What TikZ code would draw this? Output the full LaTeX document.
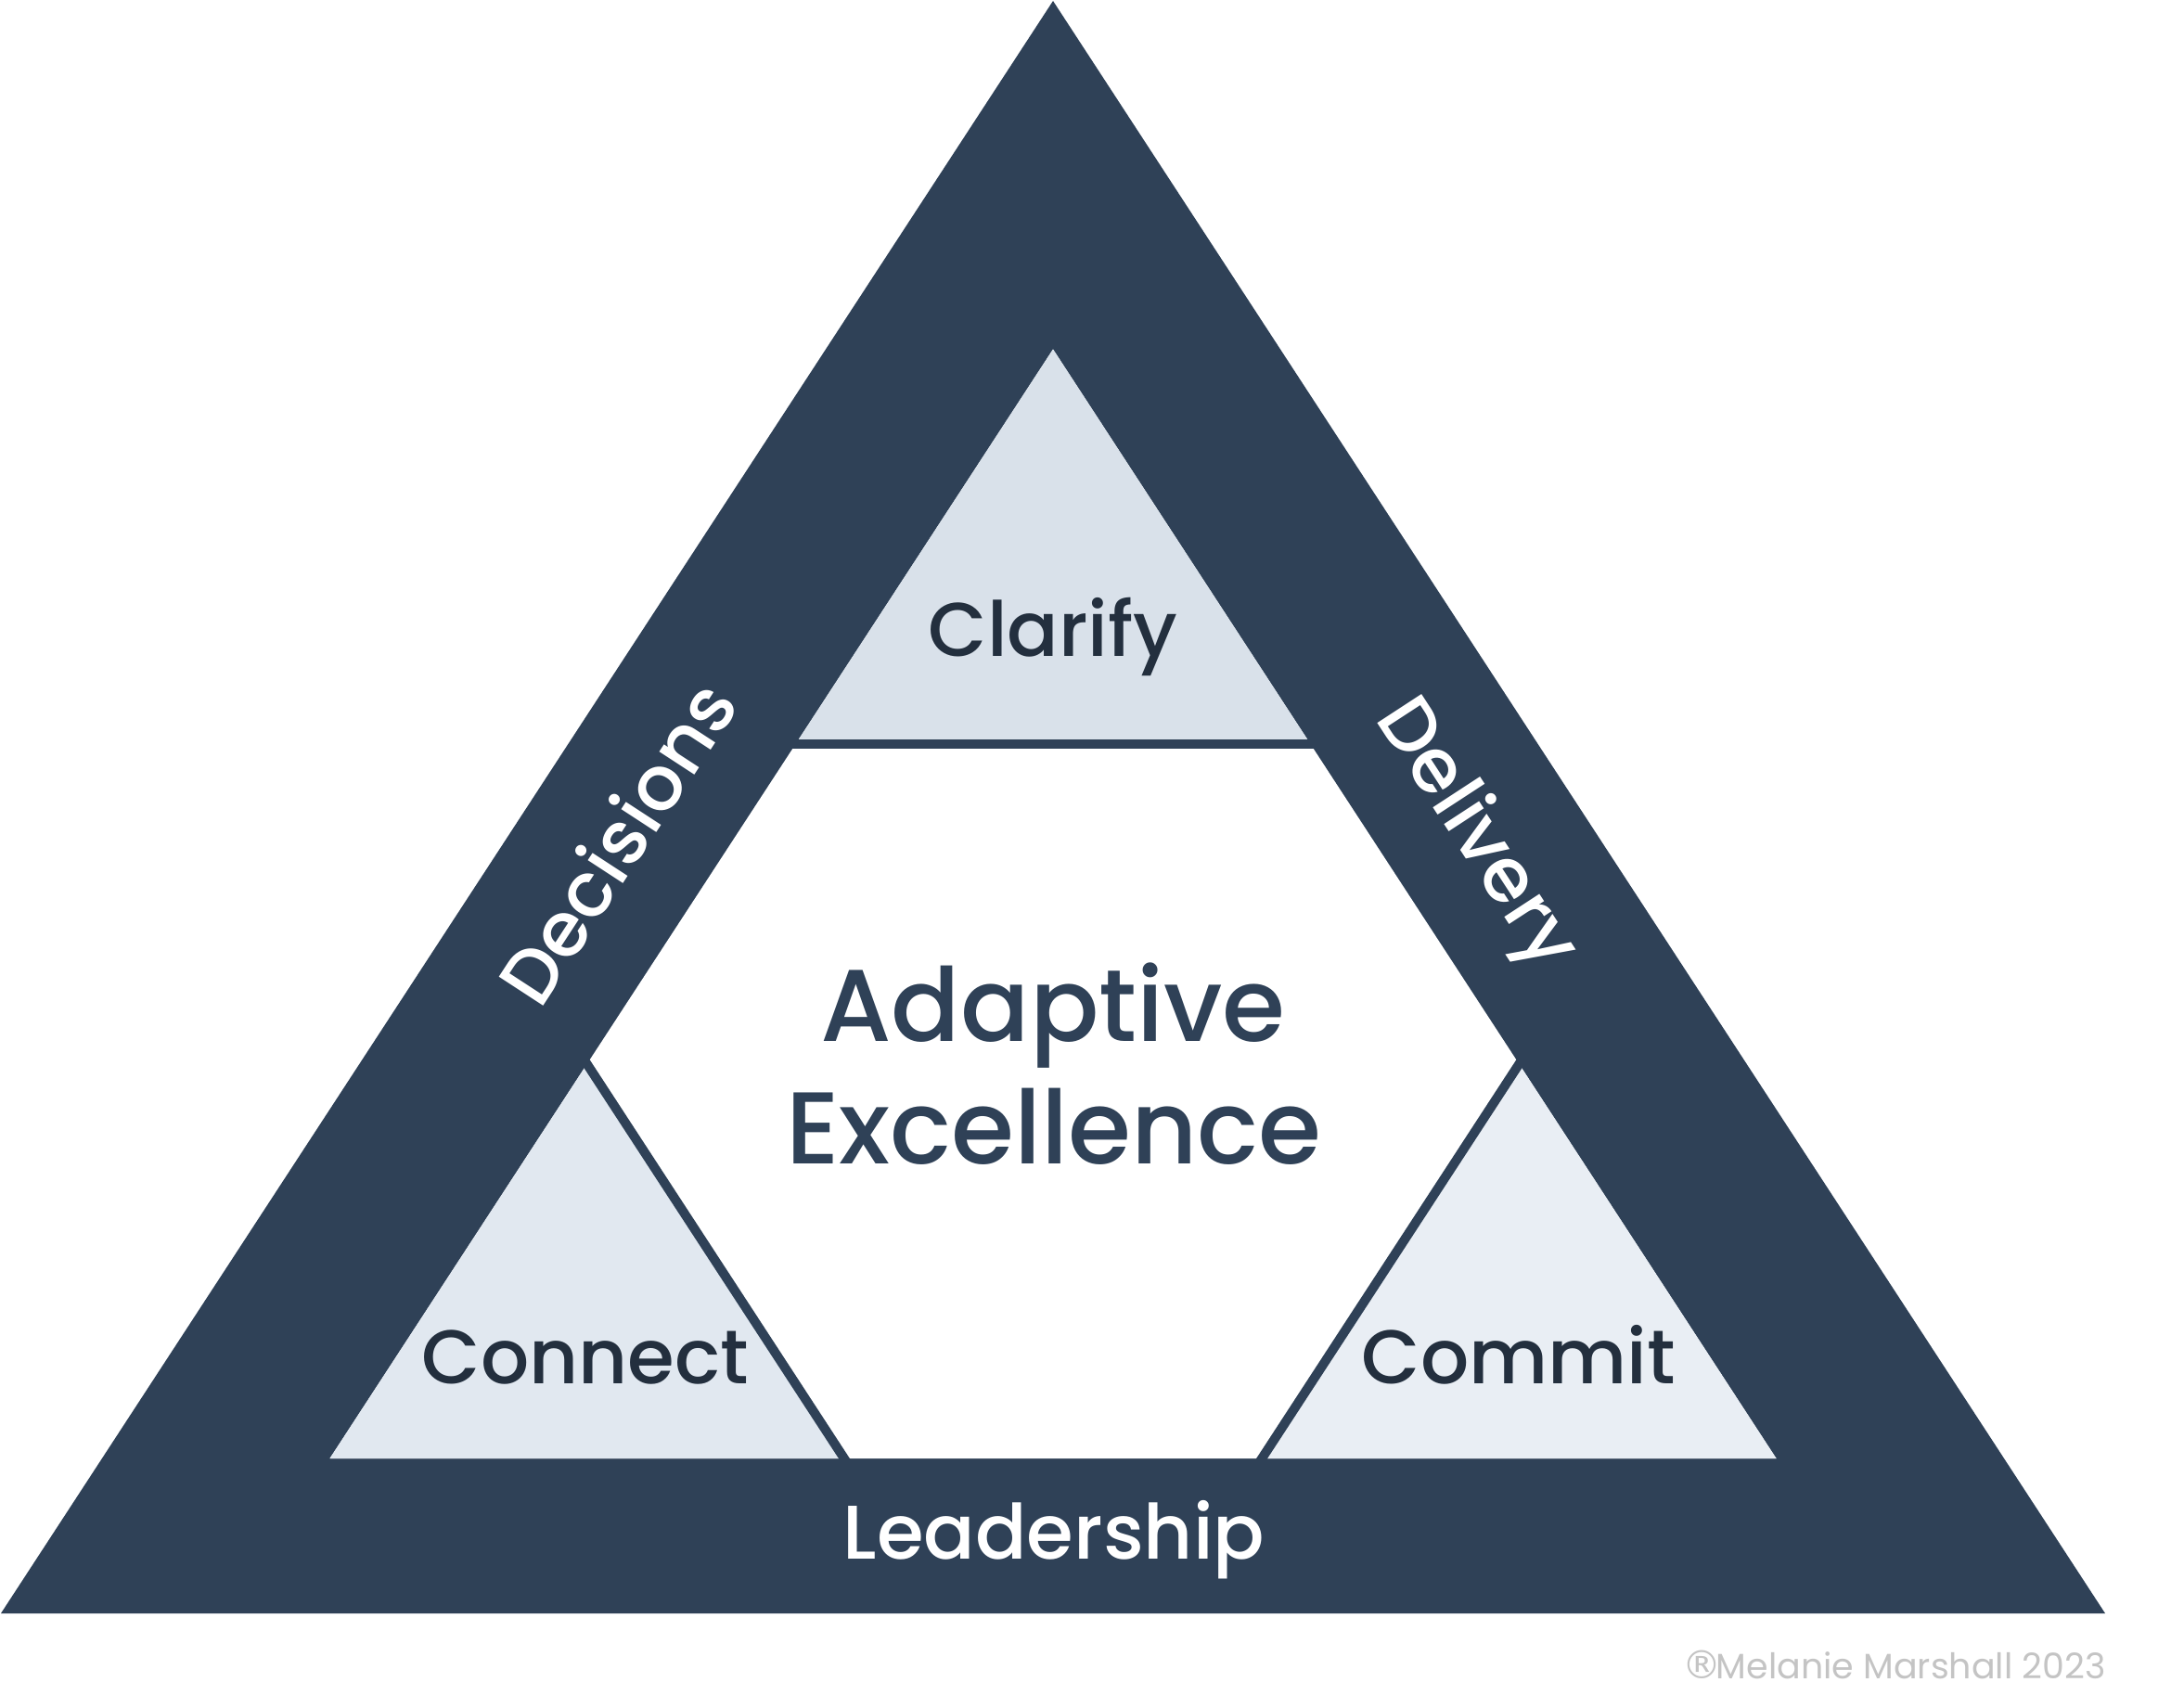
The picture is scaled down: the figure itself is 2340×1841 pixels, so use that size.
\documentclass[tikz,border=0pt]{standalone}
\usepackage{fontspec}
\setmainfont{Poppins}[UprightFont={* Medium}]
\newfontfamily\regfont{Poppins}
\newfontfamily\symfont{DejaVu Sans}
\usetikzlibrary{calc}
\definecolor{navy}{HTML}{2F4157}
\definecolor{ink}{HTML}{232F3E}
\definecolor{clarifyfill}{HTML}{D9E1EA}
\definecolor{connectfill}{HTML}{E1E8F0}
\definecolor{commitfill}{HTML}{E9EEF4}
\definecolor{copygray}{HTML}{C4C4C4}
\tikzset{
  sublabel/.style={inner sep=0pt, anchor=base, text=ink, font=\fontsize{82}{98}\selectfont},
  bandlabel/.style={inner sep=0pt, text=white, text height=58pt, text depth=0pt, font=\fontsize{82}{98}\selectfont},
  centerlabel/.style={inner sep=0pt, anchor=base, text=navy, font=\fontsize{110}{130}\selectfont},
  divider/.style={draw=navy, line width=10pt, shorten <=-12pt, shorten >=-12pt}
}
\begin{document}
\begin{tikzpicture}[x=1pt,y=-1pt]
\useasboundingbox (0,0) rectangle (2340,1841);
\fill[white] (0,0) rectangle (2340,1841);
% outer triangle
\coordinate (A) at (1135,1);
\coordinate (BL) at (1,1739);
\coordinate (BR) at (2269,1739);
% inner triangle
\coordinate (Ai) at (1135,376.5);
\coordinate (BLi) at (355.5,1572);
\coordinate (BRi) at (1914.5,1572);
\fill[navy] (A) -- (BL) -- (BR) -- cycle;
\fill[white] (Ai) -- (BLi) -- (BRi) -- cycle;
% corner points
\def\t{0.3556}
\coordinate (TL) at ($(Ai)!\t!(BLi)$);
\coordinate (TR) at ($(Ai)!\t!(BRi)$);
\coordinate (LT) at ($(BLi)!\t!(Ai)$);
\coordinate (LR) at ($(BLi)!\t!(BRi)$);
\coordinate (RT) at ($(BRi)!\t!(Ai)$);
\coordinate (RL) at ($(BRi)!\t!(BLi)$);
\fill[clarifyfill] (Ai) -- (TL) -- (TR) -- cycle;
\fill[connectfill] (BLi) -- (LT) -- (LR) -- cycle;
\fill[commitfill] (BRi) -- (RT) -- (RL) -- cycle;
\draw[divider] (TL) -- (TR);
\draw[divider] (LT) -- (LR);
\draw[divider] (RT) -- (RL);
% labels
\node[sublabel] (clarify) at (1135,707) {Clarify};
\node[sublabel] (connect) at (631,1491) {Connect};
\node[sublabel] (commit) at (1637,1491) {Commit};
\node[centerlabel] (adaptive) at (1135,1122) {Adaptive};
\node[centerlabel] (excellence) at (1136,1254) {Excellence};
\node[bandlabel, rotate=56.87] (decisions) at (666,909) {Decisions};
\node[bandlabel, rotate=-56.87] (delivery) at (1596,896) {Delivery};
\node[bandlabel, anchor=base, text height=, text depth=] (leadership) at (1136,1680) {Leadership};
\node[inner sep=0pt, anchor=base east, text=copygray, font=\regfont\fontsize{38}{45}\selectfont] (copy) at (2270,1809) {{\symfont\fontsize{42}{50}\selectfont ®}\kern-6pt Melanie Marshall 2023};
\end{tikzpicture}
\end{document}
